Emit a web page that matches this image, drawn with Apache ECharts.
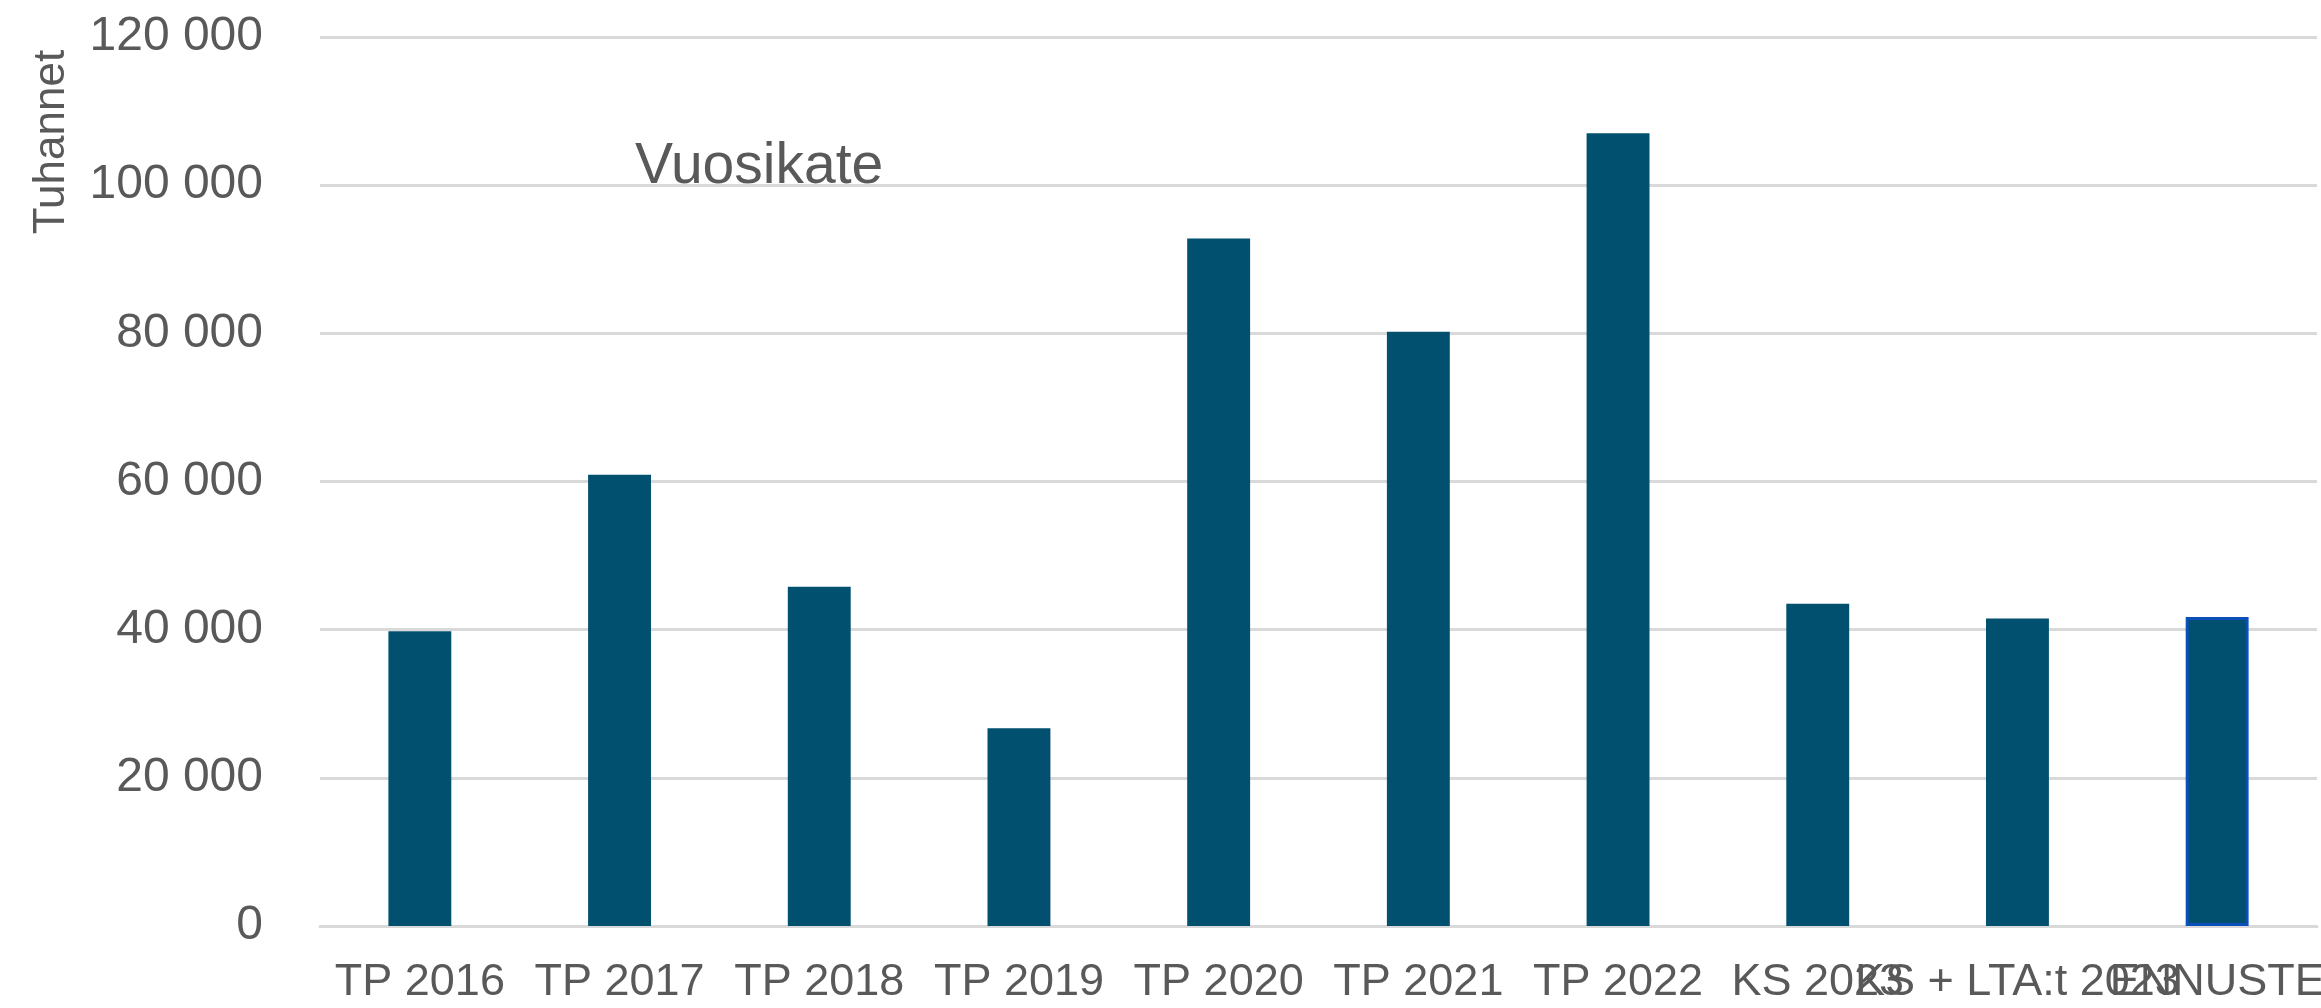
<!DOCTYPE html>
<html>
<head>
<meta charset="utf-8">
<script src="https://cdn.jsdelivr.net/npm/echarts@6/dist/echarts.min.js"></script>
<style>
    html, body { margin: 0; padding: 0; background: #fff; }
    #main { width: 2321px; height: 1008px; }
</style>
</head>
<body>
<div id="main"></div>
<script>
// 数据
const categories = ['TP 2016', 'TP 2017', 'TP 2018', 'TP 2019', 'TP 2020', 'TP 2021', 'TP 2022', 'KS 2023', 'KS + LTA:t 2023', 'ENNUSTE']
const values = [39800, 60900, 45800, 26700, 92800, 80200, 107000, 43500, 41500, 41700]
const yTicks = [0, 20000, 40000, 60000, 80000, 100000, 120000]

// 千位空格分隔
function fmt(v) {
    return String(v).replace(/\B(?=(\d{3})+(?!\d))/g, ' ')
}

const font = 'Liberation Sans'
const textColor = '#595959'

const chart = echarts.init(document.getElementById('main'))

let option = {
    animation: false,
    title: {
        text: 'Vuosikate',
        left: 630,
        top: 134,
        textStyle: {
            fontFamily: font,
            fontSize: 57,
            fontWeight: 'normal',
            color: textColor,
        },
    },
    graphic: [
        {
            type: 'text',
            x: 52,
            y: 142,
            rotation: Math.PI / 2,
            style: {
                text: 'Tuhannet',
                fontFamily: font,
                fontSize: 44,
                fill: textColor,
                align: 'center',
                verticalAlign: 'middle',
            },
        },
    ],
    grid: {
        left: 320,
        right: 4,
        top: 37,
        bottom: 82,
        outerBoundsMode: 'none',
    },
    xAxis: {
        type: 'category',
        data: categories,
        axisTick: { show: false },
        axisLine: {
            lineStyle: { color: '#d9d9d9', width: 3 },
        },
        axisLabel: {
            interval: 0,
            margin: 34,
            color: textColor,
            fontFamily: font,
            fontSize: 45,
        },
    },
    yAxis: {
        type: 'value',
        min: yTicks[0],
        max: yTicks[yTicks.length - 1],
        interval: 20000,
        axisLine: { show: false },
        axisTick: { show: false },
        splitLine: {
            lineStyle: { color: '#d9d9d9', width: 3 },
        },
        axisLabel: {
            margin: 57,
            color: textColor,
            fontFamily: font,
            fontSize: 48,
            formatter: fmt,
        },
    },
    series: [
        {
            type: 'bar',
            barWidth: '31.5%',
            data: values.map((v, i) => {
                // 最后一根柱子带蓝色边框
                if (i === values.length - 1) {
                    return { value: v, itemStyle: { borderColor: '#0a50b8', borderWidth: 3 } }
                }
                return v
            }),
            itemStyle: {
                color: '#02506f',
            },
        },
    ],
}

chart.setOption(option)
</script>
</body>
</html>
